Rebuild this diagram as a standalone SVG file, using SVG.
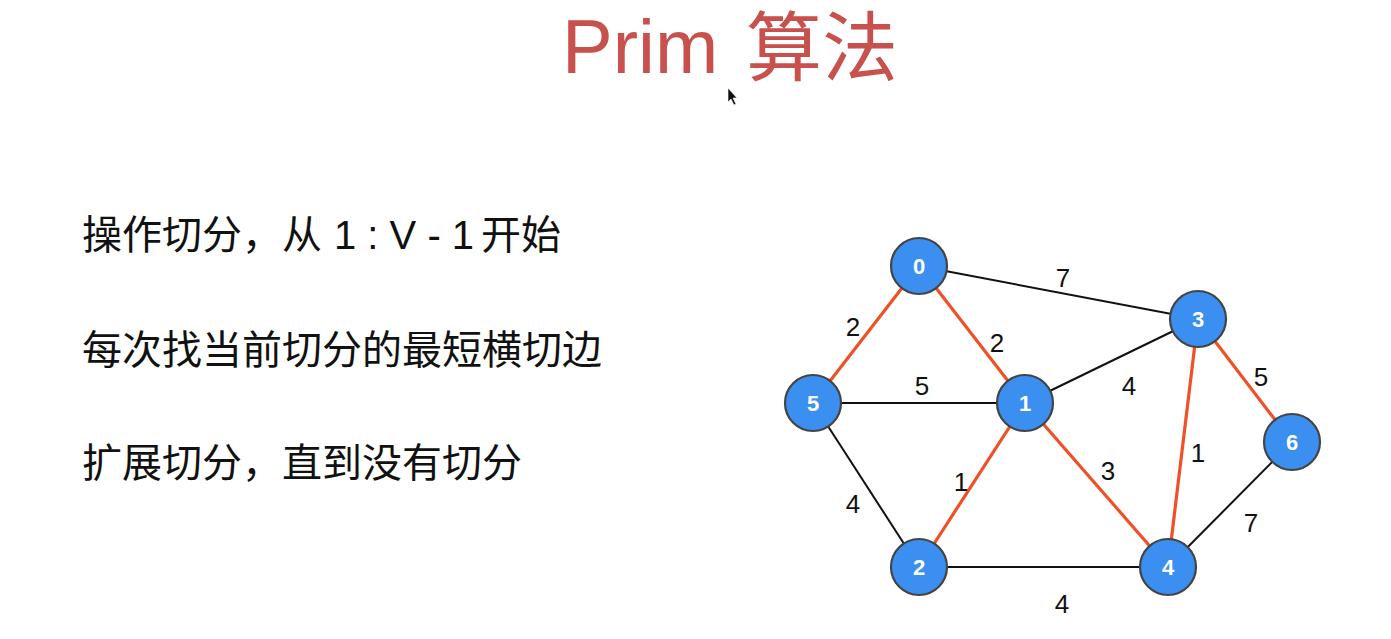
<svg xmlns="http://www.w3.org/2000/svg" width="1391" height="639" viewBox="0 0 1391 639">
<style>
.title{font-family:"Liberation Sans","Noto Sans CJK SC",sans-serif;font-size:76px;fill:#c8504d}
.titlecjk{font-family:"Noto Sans CJK SC",sans-serif;font-size:76px;fill:#c8504d}
.body{font-family:"Liberation Sans","Noto Sans CJK SC",sans-serif;font-size:40px;fill:#111}
.cjk{font-family:"Noto Sans CJK SC",sans-serif}
.edge{stroke:#111;stroke-width:2;fill:none}
.mst{stroke:#ee5128;stroke-width:3.2;fill:none}
.node circle{fill:#3a8ff0;stroke:#444;stroke-width:2.2}
.node text{font-family:"Liberation Sans",sans-serif;font-weight:bold;font-size:22px;fill:#fff;text-anchor:middle}
.w{font-family:"Liberation Sans",sans-serif;font-size:26px;fill:#111;text-anchor:middle}
</style>
<rect width="1391" height="639" fill="#fff"/>
<g id="title">
<text class="title" x="562" y="73">Prim</text>
<text class="titlecjk" x="746" y="75">算法</text>
</g>
<polygon id="cursor" points="728,88 728,102 731,99 734,105 736,104 733,98 737,98" fill="#111" stroke="#fff" stroke-width="0.6"/>
<g id="text">
<text class="body" y="249"><tspan class="cjk" x="82">操作切分，从</tspan><tspan x="334">1 : V - 1</tspan><tspan class="cjk" x="481">开始</tspan></text>
<text class="body cjk" x="82" y="364">每次找当前切分的最短横切边</text>
<text class="body cjk" x="82" y="477">扩展切分，直到没有切分</text>
</g>
<g id="connectors">
<line class="edge" x1="919" y1="266" x2="1198" y2="319"/>
<line class="edge" x1="813" y1="403" x2="1025" y2="403"/>
<line class="edge" x1="1025" y1="403" x2="1198" y2="319"/>
<line class="edge" x1="813" y1="403" x2="919" y2="567"/>
<line class="edge" x1="919" y1="567" x2="1168" y2="567"/>
<line class="edge" x1="1168" y1="567" x2="1292" y2="442"/>
<line class="mst" x1="919" y1="266" x2="813" y2="403"/>
<line class="mst" x1="919" y1="266" x2="1025" y2="403"/>
<line class="mst" x1="1025" y1="403" x2="919" y2="567"/>
<line class="mst" x1="1025" y1="403" x2="1168" y2="567"/>
<line class="mst" x1="1198" y1="319" x2="1168" y2="567"/>
<line class="mst" x1="1198" y1="319" x2="1292" y2="442"/>
<text class="w" x="1063" y="287">7</text>
<text class="w" x="853" y="336">2</text>
<text class="w" x="997" y="352">2</text>
<text class="w" x="922" y="395">5</text>
<text class="w" x="1129" y="395">4</text>
<text class="w" x="1261" y="386">5</text>
<text class="w" x="1198" y="462">1</text>
<text class="w" x="1108" y="480">3</text>
<text class="w" x="1251" y="532">7</text>
<text class="w" x="961" y="491">1</text>
<text class="w" x="853" y="513">4</text>
<text class="w" x="1062" y="613">4</text>
</g>
<g id="node0" class="node"><circle cx="919" cy="266" r="28"/><text x="919" y="274">0</text></g>
<g id="node1" class="node"><circle cx="1025" cy="403" r="28"/><text x="1025" y="411">1</text></g>
<g id="node2" class="node"><circle cx="919" cy="567" r="28"/><text x="919" y="575">2</text></g>
<g id="node3" class="node"><circle cx="1198" cy="319" r="28"/><text x="1198" y="327">3</text></g>
<g id="node4" class="node"><circle cx="1168" cy="567" r="28"/><text x="1168" y="575">4</text></g>
<g id="node5" class="node"><circle cx="813" cy="403" r="28"/><text x="813" y="411">5</text></g>
<g id="node6" class="node"><circle cx="1292" cy="442" r="28"/><text x="1292" y="450">6</text></g>
</svg>
